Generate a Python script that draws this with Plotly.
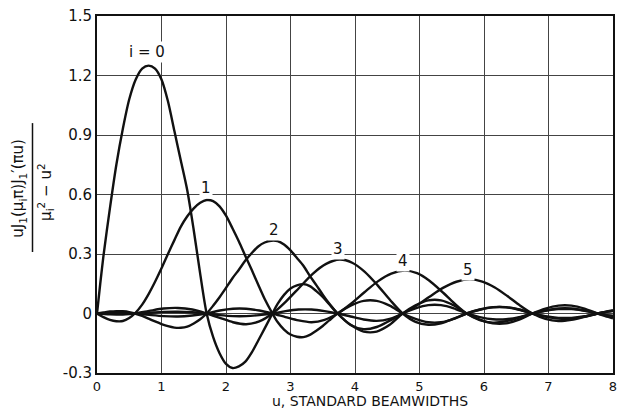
import plotly.graph_objects as go

# Mode coefficient curves, i = 0 .. 5  (u in standard beamwidths)
u0 = [0, 0.05, 0.1, 0.2, 0.3, 0.4, 0.5, 0.6, 0.7, 0.8, 0.9, 1.0, 1.1, 1.2, 1.3, 1.4, 1.5, 1.6, 1.70,
      1.8, 1.9, 2.0, 2.1, 2.2, 2.3, 2.4, 2.5, 2.6, 2.72,
      2.8, 2.9, 3.0, 3.1, 3.2, 3.3, 3.4, 3.5, 3.6, 3.73,
      3.932, 4.134, 4.336, 4.538, 4.74,
      4.938, 5.136, 5.334, 5.532, 5.73,
      5.934, 6.138, 6.342, 6.546, 6.75,
      6.952, 7.154, 7.356, 7.558, 7.76,
      7.88, 8.0]
v0 = [0, 0.15, 0.29, 0.53, 0.75, 0.93, 1.08, 1.18, 1.235, 1.25, 1.235, 1.18, 1.07, 0.92, 0.77, 0.62, 0.42, 0.20, 0,
      -0.118, -0.20, -0.254, -0.275, -0.267, -0.243, -0.196, -0.136, -0.075, 0,
      0.048, 0.094, 0.126, 0.142, 0.148, 0.138, 0.113, 0.084, 0.047, 0,
      -0.057, -0.091, -0.091, -0.057, 0,
      0.041, 0.066, 0.066, 0.041, 0,
      -0.031, -0.050, -0.050, -0.031, 0,
      0.025, 0.040, 0.040, 0.025, 0,
      -0.013, -0.024]

u1 = [0, 0.1, 0.2, 0.3, 0.4, 0.5, 0.586,
      0.7, 0.8, 0.9, 1.0, 1.1, 1.2, 1.3, 1.4, 1.5, 1.6, 1.7, 1.8, 1.9, 2.0, 2.1, 2.2, 2.3, 2.4, 2.5, 2.6, 2.72,
      2.8, 2.9, 3.0, 3.1, 3.2, 3.3, 3.4, 3.5, 3.6, 3.73,
      3.932, 4.134, 4.336, 4.538, 4.74,
      4.938, 5.136, 5.334, 5.532, 5.73,
      5.934, 6.138, 6.342, 6.546, 6.75,
      6.952, 7.154, 7.356, 7.558, 7.76,
      7.88, 8.0]
v1 = [0, -0.018, -0.032, -0.039, -0.038, -0.023, 0,
      0.045, 0.098, 0.16, 0.228, 0.30, 0.37, 0.438, 0.49, 0.53, 0.558, 0.572, 0.567, 0.54, 0.493, 0.43, 0.363, 0.29, 0.219, 0.145, 0.073, 0,
      -0.043, -0.081, -0.106, -0.117, -0.119, -0.108, -0.087, -0.063, -0.035, 0,
      0.040, 0.064, 0.064, 0.040, 0,
      -0.027, -0.044, -0.044, -0.027, 0,
      0.020, 0.032, 0.032, 0.020, 0,
      -0.016, -0.026, -0.026, -0.016, 0,
      0.008, 0.015]

u2 = [0, 0.1, 0.2, 0.3, 0.4, 0.5, 0.586,
      0.7, 0.8, 0.9, 1.0, 1.1, 1.2, 1.3, 1.4, 1.5, 1.6, 1.70,
      1.8, 1.9, 2.0, 2.1, 2.2, 2.3, 2.4, 2.5, 2.6, 2.7, 2.8, 2.9, 3.0, 3.1, 3.2, 3.3, 3.4, 3.5, 3.6, 3.73,
      3.932, 4.134, 4.336, 4.538, 4.74,
      4.938, 5.136, 5.334, 5.532, 5.73,
      5.934, 6.138, 6.342, 6.546, 6.75,
      6.952, 7.154, 7.356, 7.558, 7.76,
      7.88, 8.0]
v2 = [0, 0.005, 0.010, 0.012, 0.011, 0.007, 0,
      -0.012, -0.026, -0.040, -0.053, -0.064, -0.071, -0.072, -0.066, -0.050, -0.029, 0,
      0.039, 0.082, 0.129, 0.178, 0.221, 0.267, 0.305, 0.338, 0.358, 0.367, 0.365, 0.348, 0.318, 0.28, 0.241, 0.19, 0.143, 0.095, 0.05, 0,
      -0.058, -0.079, -0.068, -0.036, 0,
      0.026, 0.042, 0.042, 0.026, 0,
      -0.018, -0.029, -0.029, -0.018, 0,
      0.014, 0.022, 0.022, 0.014, 0,
      -0.007, -0.012]

u3 = [0, 0.1, 0.2, 0.3, 0.4, 0.5, 0.586,
      0.809, 1.032, 1.254, 1.477, 1.70,
      1.904, 2.108, 2.312, 2.516, 2.72,
      2.928, 3.136, 3.344, 3.552, 3.76, 3.956, 4.152, 4.348, 4.544, 4.74,
      4.938, 5.136, 5.334, 5.532, 5.73,
      5.934, 6.138, 6.342, 6.546, 6.75,
      6.952, 7.154, 7.356, 7.558, 7.76,
      7.88, 8.0]
v3 = [0, -0.002, -0.004, -0.005, -0.005, -0.003, 0,
      0.013, 0.025, 0.028, 0.020, 0,
      -0.022, -0.044, -0.054, -0.040, 0,
      0.06, 0.13, 0.20, 0.25, 0.272, 0.256, 0.21, 0.143, 0.068, 0,
      -0.042, -0.057, -0.049, -0.026, 0,
      0.019, 0.031, 0.031, 0.019, 0,
      -0.014, -0.022, -0.022, -0.014, 0,
      0.007, 0.012]

u4 = [0, 0.1, 0.2, 0.3, 0.4, 0.5, 0.586,
      0.809, 1.032, 1.254, 1.477, 1.70,
      1.904, 2.108, 2.312, 2.516, 2.72,
      2.922, 3.124, 3.326, 3.528, 3.73,
      3.938, 4.146, 4.354, 4.562, 4.77, 4.962, 5.154, 5.346, 5.538, 5.73,
      5.934, 6.138, 6.342, 6.546, 6.75,
      6.952, 7.154, 7.356, 7.558, 7.76,
      7.88, 8.0]
v4 = [0, 0.001, 0.002, 0.003, 0.003, 0.002, 0,
      -0.007, -0.013, -0.015, -0.010, 0,
      0.015, 0.024, 0.024, 0.015, 0,
      -0.018, -0.035, -0.044, -0.032, 0,
      0.049, 0.107, 0.162, 0.201, 0.216, 0.203, 0.165, 0.111, 0.052, 0,
      -0.033, -0.046, -0.039, -0.021, 0,
      0.015, 0.025, 0.025, 0.015, 0,
      -0.007, -0.012]

u5 = [0, 0.1, 0.2, 0.3, 0.4, 0.5, 0.586,
      0.809, 1.032, 1.254, 1.477, 1.70,
      1.904, 2.108, 2.312, 2.516, 2.72,
      2.922, 3.124, 3.326, 3.528, 3.73,
      3.932, 4.134, 4.336, 4.538, 4.74,
      4.948, 5.156, 5.364, 5.572, 5.78, 5.974, 6.168, 6.362, 6.556, 6.75,
      6.952, 7.154, 7.356, 7.558, 7.76,
      7.88, 8.0]
v5 = [0, -0.001, -0.0015, -0.002, -0.002, -0.001, 0,
      0.004, 0.008, 0.009, 0.006, 0,
      -0.008, -0.013, -0.013, -0.008, 0,
      0.012, 0.020, 0.020, 0.012, 0,
      -0.015, -0.030, -0.037, -0.027, 0,
      0.039, 0.085, 0.129, 0.160, 0.172, 0.161, 0.131, 0.088, 0.041, 0,
      -0.027, -0.038, -0.032, -0.017, 0,
      0.008, 0.015]

x_ticks = [0, 1, 2, 3, 4, 5, 6, 7, 8]
y_ticks = [-0.3, 0, 0.3, 0.6, 0.9, 1.2, 1.5]
y_tick_text = ["-0.3", "0", "0.3", "0.6", "0.9", "1.2", "1.5"]

# curve labels: text, u, value
labels = [("i = 0", 0.78, 1.318), ("1", 1.69, 0.631), ("2", 2.74, 0.419),
          ("3", 3.74, 0.323), ("4", 4.75, 0.263), ("5", 5.75, 0.217)]

FONT = "DejaVu Sans"
INK = "#111111"

fig = go.Figure()
for u, v in [(u0, v0), (u1, v1), (u2, v2), (u3, v3), (u4, v4), (u5, v5)]:
    fig.add_trace(go.Scatter(
        x=u, y=v, mode="lines",
        line=dict(color=INK, width=2.4, shape="spline", smoothing=0.8),
        hoverinfo="skip", showlegend=False))

for text, xu, yv in labels:
    fig.add_annotation(x=xu, y=yv, text=text, showarrow=False,
                       font=dict(family=FONT, size=15, color=INK),
                       bgcolor="white", borderpad=1)

# y-axis quantity written as a rotated fraction
fig.add_annotation(xref="paper", yref="paper", x=-0.152, y=0.518,
                   xanchor="center", yanchor="middle",
                   text="uJ<sub>1</sub>(μ<sub>i</sub>π)J<sub>1</sub>′(πu)",
                   textangle=-90, showarrow=False,
                   font=dict(family=FONT, size=15, color=INK))
fig.add_annotation(xref="paper", yref="paper", x=-0.101, y=0.507,
                   xanchor="center", yanchor="middle",
                   text="μ<sub>i</sub><sup>2</sup> − u<sup>2</sup>",
                   textangle=-90, showarrow=False,
                   font=dict(family=FONT, size=15, color=INK))
fig.add_shape(type="line", xref="paper", yref="paper",
              x0=-0.125, x1=-0.125, y0=0.339, y1=0.700,
              line=dict(color=INK, width=1.5))

fig.add_annotation(xref="paper", yref="paper", x=0.529, y=-0.079,
                   xanchor="center", yanchor="middle",
                   text="u, STANDARD BEAMWIDTHS", showarrow=False,
                   font=dict(family=FONT, size=14, color=INK))

axis_common = dict(showgrid=True, gridcolor="#444444", gridwidth=1,
                   showline=True, linecolor=INK, linewidth=2, mirror=True,
                   ticks="",
                   zeroline=True, zerolinecolor="#444444", zerolinewidth=1)

fig.update_layout(
    width=623, height=409,
    margin=dict(l=97, r=6, t=16, b=36),
    paper_bgcolor="white", plot_bgcolor="white",
    xaxis=dict(range=[0, 8], tickvals=x_ticks,
               tickfont=dict(family=FONT, size=13, color=INK), **axis_common),
    yaxis=dict(range=[-0.3, 1.5], tickvals=y_ticks, ticktext=y_tick_text,
               tickfont=dict(family=FONT, size=15, color=INK), **axis_common),
)

fig.write_html("out.html")
